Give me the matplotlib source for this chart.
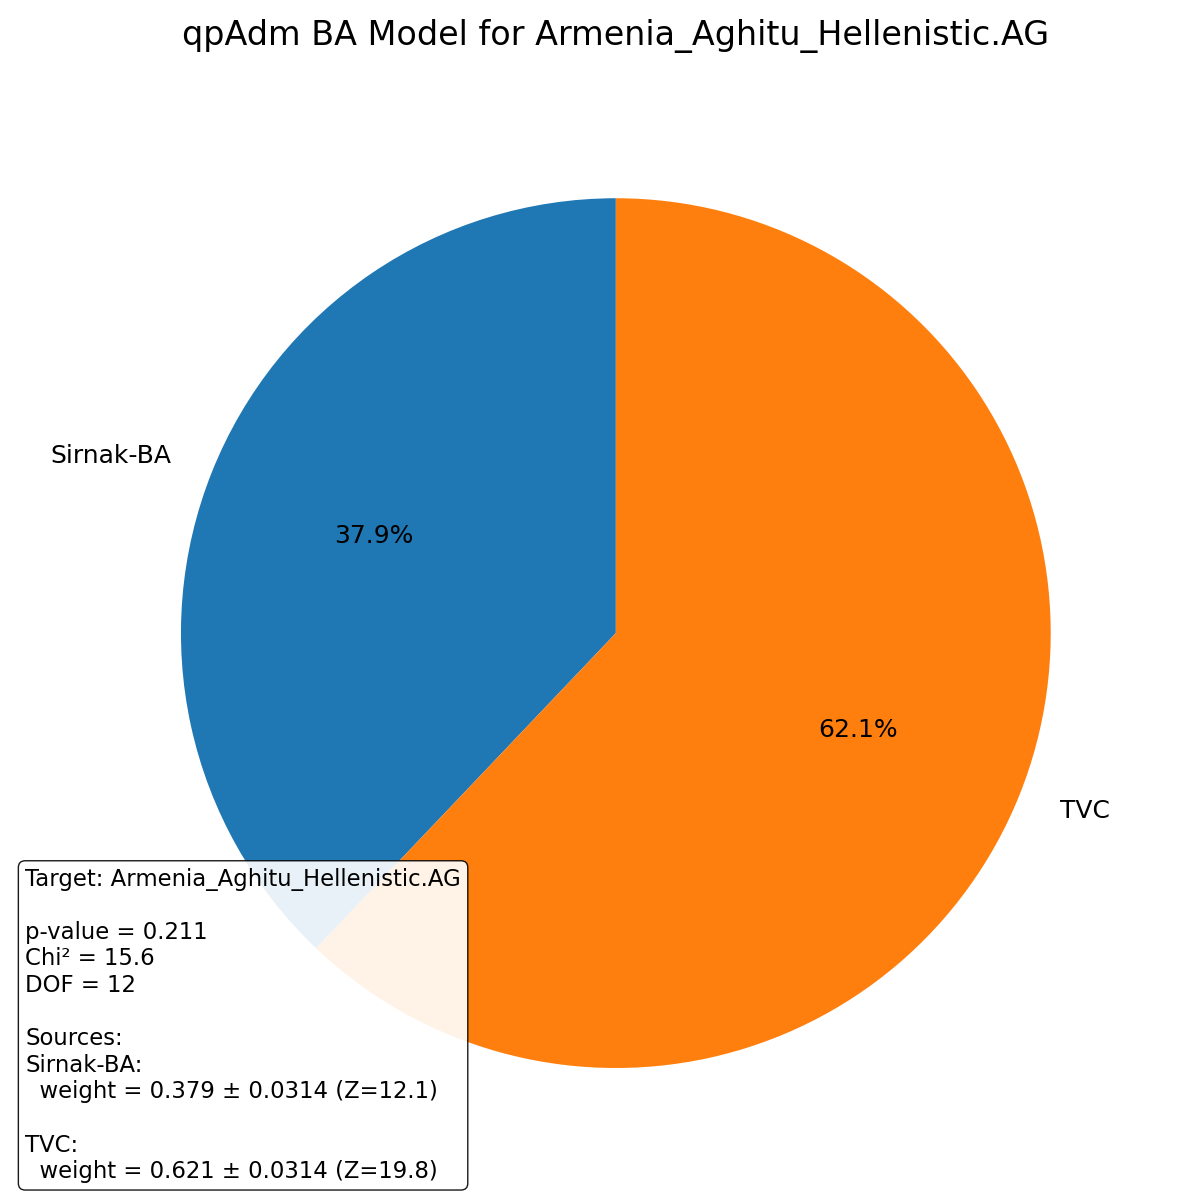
import matplotlib.pyplot as plt

title = 'qpAdm BA Model for Armenia_Aghitu_Hellenistic.AG'
target = 'Armenia_Aghitu_Hellenistic.AG'
sources = ['Sirnak-BA', 'TVC']
weights = [0.379, 0.621]
std_errs = [0.0314, 0.0314]
z_scores = [12.1, 19.8]
p_value = 0.211
chi2 = 15.6
dof = 12


def plot_qpadm_pie():
    fig = plt.figure(figsize=(12, 12), dpi=100)
    ax = fig.add_axes([0.0602, 0.0194, 0.906, 0.906])
    ax.pie(weights, labels=sources, autopct='%1.1f%%', startangle=90,
           textprops={'fontsize': 18})
    ax.set_xlim(-1.25, 1.25)
    ax.set_ylim(-1.25, 1.25)
    ax.set_aspect('equal')
    ax.set_title(title, fontsize=24, pad=32)

    info = f'Target: {target}\n\np-value = {p_value:.3f}\nChi\u00b2 = {chi2:.1f}\nDOF = {dof}\n\nSources:\n'
    parts = []
    for s, w, e, z in zip(sources, weights, std_errs, z_scores):
        parts.append(f'{s}:\n  weight = {w:.3f} \u00b1 {e:.4f} (Z={z:.1f})')
    info += '\n\n'.join(parts)
    fig.text(0.021, 0.014, info, fontsize=16.4, va='bottom', ha='left',
             bbox=dict(boxstyle='round', facecolor='white', alpha=0.9))
    fig.savefig('out.png')


if __name__ == '__main__':
    plot_qpadm_pie()
